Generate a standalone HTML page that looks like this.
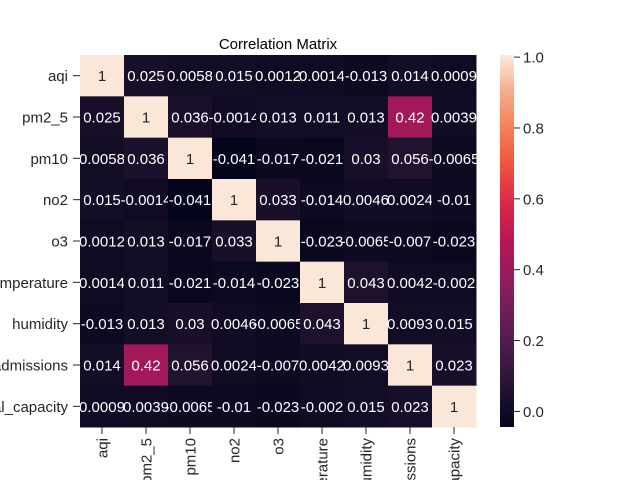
<!DOCTYPE html>
<html><head><meta charset="utf-8"><style>html,body{margin:0;background:#fff;width:640px;height:480px;overflow:hidden}svg{display:block;overflow:hidden;font-family:"Liberation Sans","DejaVu Sans",sans-serif}</style></head>
<body>
<svg id="c" width="640" height="480"></svg>
<script>
const labels=["aqi","pm2_5","pm10","no2","o3","temperature","humidity","admissions","hospital_capacity"];
const row0=[1,0.025,0.0058,0.015,0.0012,0.0014,-0.013,0.014,0.0009];
const row1=[0.025,1,0.036,-0.0014,0.013,0.011,0.013,0.42,0.0039];
const row2=[0.0058,0.036,1,-0.041,-0.017,-0.021,0.03,0.056,-0.0065];
const row3=[0.015,-0.0014,-0.041,1,0.033,-0.014,0.0046,0.0024,-0.01];
const row4=[0.0012,0.013,-0.017,0.033,1,-0.023,-0.0065,-0.007,-0.023];
const row5=[0.0014,0.011,-0.021,-0.014,-0.023,1,0.043,0.0042,-0.002];
const row6=[-0.013,0.013,0.03,0.0046,-0.0065,0.043,1,0.0093,0.015];
const row7=[0.014,0.42,0.056,0.0024,-0.007,0.0042,0.0093,1,0.023];
const row8=[0.0009,0.0039,-0.0065,-0.01,-0.023,-0.002,0.015,0.023,1];
const matrix=[row0,row1,row2,row3,row4,row5,row6,row7,row8];
const cbTicks=[0.0,0.2,0.4,0.6,0.8,1.0];
const vmin=-0.044,vmax=1.006;

const NS="http://www.w3.org/2000/svg",svg=document.getElementById("c");
function el(t,a,p){const e=document.createElementNS(NS,t);for(const k in a)e.setAttribute(k,a[k]);(p||svg).appendChild(e);return e;}
const X0=80,Y0=55,W=396,H=372,n=labels.length,cw=W/n,ch=H/n,FS=15;
const xs=i=>X0+i*cw, ys=i=>Y0+i*ch;
const stops=["#03051a","#221331","#451c47","#6a1f56","#921c5b","#b91657","#d92847","#ed513e","#f47d57","#f6ab8a","#faebdd"];
function hex(h){return [1,3,5].map(i=>parseInt(h.substr(i,2),16));}
function cmap(v){let t=(v-vmin)/(vmax-vmin);t=Math.max(0,Math.min(1,t))*10;const i=Math.min(9,Math.floor(t)),f=t-i;const a=hex(stops[i]),b=hex(stops[i+1]);return "rgb("+a.map((c,k)=>Math.round(c+(b[k]-c)*f)).join(",")+")";}
const cy=v=>427-(v-vmin)/(vmax-vmin)*372;

const t=el("text",{x:278,y:49,"text-anchor":"middle","font-size":FS,fill:"#000"});t.textContent="Correlation Matrix";



matrix.forEach((row,r)=>row.forEach((v,c)=>{
  const rc=el("rect",{x:xs(c),y:ys(r),width:cw+0.5,height:ch+0.5,fill:cmap(v)});
  
  
  const tx=el("text",{x:xs(c)+cw/2,y:ys(r)+ch/2+5.5,"text-anchor":"middle","font-size":FS,fill:v>0.6?"#262626":"#fff"});
  tx.textContent=String(v);
  
  
}));

labels.forEach((l,i)=>{
  const yl=el("text",{x:68,y:ys(i)+ch/2+5.5,"text-anchor":"end","font-size":FS,fill:"#262626"});yl.textContent=l;
  
  
  el("line",{x1:73,x2:80,y1:ys(i)+ch/2,y2:ys(i)+ch/2,stroke:"#262626","stroke-width":1});
  const x=xs(i)+cw/2;
  el("line",{x1:x,x2:x,y1:427,y2:434,stroke:"#262626","stroke-width":1});
  const xl=el("text",{x:0,y:0,"text-anchor":"end","font-size":FS,fill:"#262626",transform:`translate(${x+5.5},438) rotate(-90)`});xl.textContent=l;
  
  
});

const g=el("defs",{});const lg=el("linearGradient",{id:"cb",x1:0,y1:1,x2:0,y2:0},g);
stops.forEach((s,i)=>el("stop",{offset:i/10,"stop-color":s},lg));
const cb=el("rect",{x:500,y:55,width:14,height:372,fill:"url(#cb)"});


cbTicks.forEach(v=>{
  el("line",{x1:514,x2:520,y1:cy(v),y2:cy(v),stroke:"#262626"});
  const tl=el("text",{x:523,y:cy(v)+5.5,"font-size":FS,fill:"#262626"});tl.textContent=v.toFixed(1);
  
  
});
</script>
</body></html>
